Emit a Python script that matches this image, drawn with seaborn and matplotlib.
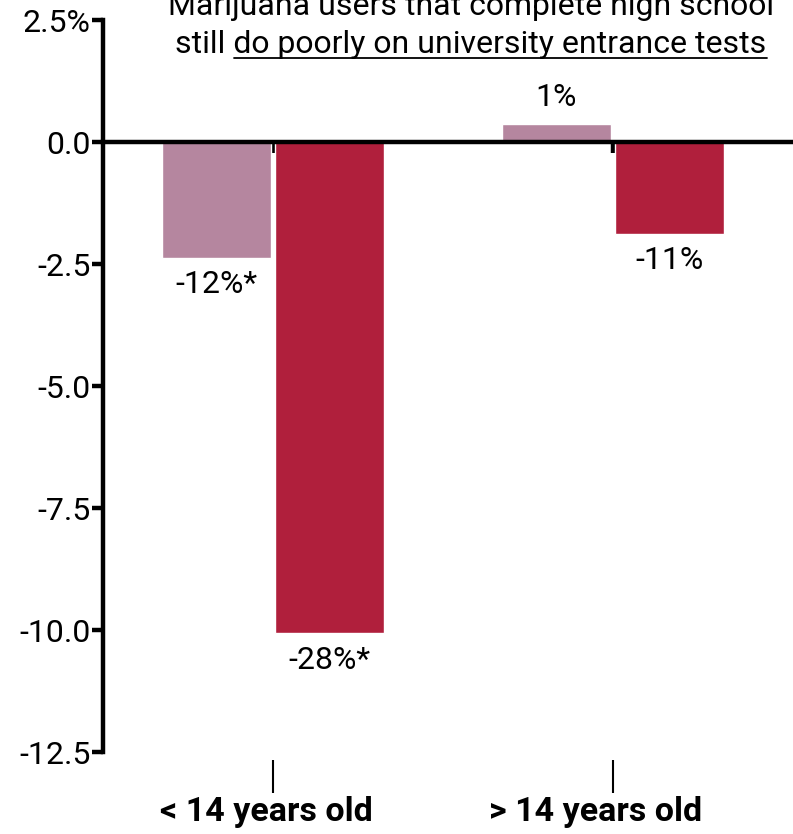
import matplotlib
matplotlib.use("Agg")
import matplotlib.pyplot as plt
import matplotlib.transforms as mtransforms
import pandas as pd
import seaborn as sns
from matplotlib.lines import Line2D

# values
age_groups = ["< 14 years old", "> 14 years old"]
series = ["light", "dark"]
light_values = [-2.37, 0.36]
dark_values = [-10.07, -1.88]
light_labels = ["-12%*", "1%"]
dark_labels = ["-28%*", "-11%"]
ytick_values = [2.5, 0.0, -2.5, -5.0, -7.5, -10.0, -12.5]
ytick_labels = ["2.5%", "0.0", "-2.5", "-5.0", "-7.5", "-10.0", "-12.5"]
title_line1 = "Marijuana users that complete high school"
title_pre = "still "
title_under = "do poorly on university entrance tests"

df = pd.DataFrame({
    "age": age_groups * 2,
    "series": [series[0]] * 2 + [series[1]] * 2,
    "value": light_values + dark_values,
})

sns.set_theme(style="white")
plt.rcParams["font.family"] = ["Roboto", "DejaVu Sans"]

W, H = 793, 834
fig = plt.figure(figsize=(W / 100, H / 100), dpi=100)
ax = fig.add_axes([103 / W, 1 - 752 / H, 1 - 103 / W, 732 / H])

sns.barplot(data=df, x="age", y="value", hue="series", order=age_groups,
            hue_order=series, palette=["#B5869F", "#B01F3C"], width=0.665,
            gap=0.03, legend=False, saturation=1, ax=ax)

for cont, labs in zip(ax.containers, [light_labels, dark_labels]):
    ax.bar_label(cont, labels=labs, padding=9, fontsize=23, color="black")

ax.set_xlim(-0.5, 1.53)
ax.set_ylim(-12.5, 2.5)
ax.set_yticks(ytick_values)
ax.set_yticklabels(ytick_labels)
ax.set_xlabel("")
ax.set_ylabel("")

for s in ["top", "right"]:
    ax.spines[s].set_visible(False)
ax.spines["left"].set_linewidth(3.2)
ax.spines["left"].set_color("black")
ax.spines["bottom"].set_position(("data", 0))
ax.spines["bottom"].set_linewidth(3.2)
ax.spines["bottom"].set_color("black")

ax.tick_params(axis="y", length=8, width=3.2, color="black", labelsize=23,
               labelcolor="black", pad=1, left=True)
ax.tick_params(axis="x", length=8, width=3.2, color="black", labelbottom=False,
               bottom=True)

sec = ax.secondary_xaxis(-8 / 732)
sec.set_xticks([0, 1])
sec.set_xticklabels(age_groups, fontweight="bold", fontsize=24.5)
sec.spines["bottom"].set_visible(False)
sec.tick_params(axis="x", length=24, width=1.5, color="black", pad=2,
                labelcolor="black")
# labels sit a bit left of their ticks in the reference
for lab, dx in zip(sec.get_xticklabels(), [-7, -17]):
    lab.set_transform(lab.get_transform() +
                      mtransforms.ScaledTranslation(dx / 100, 0, fig.dpi_scale_trans))

# title, partly cut by the top edge
cx = 471 / W
fig.text(cx, 1 - 15 / H, title_line1, ha="center", va="baseline",
         fontsize=23, color="black")
t2 = fig.text(cx, 1 - 53 / H, title_pre + title_under, ha="center",
              va="baseline", fontsize=23, color="black")
tu = fig.text(0, 0, title_under, fontsize=23, alpha=0)
fig.canvas.draw()
r = fig.canvas.get_renderer()
full = t2.get_window_extent(r)
wu = tu.get_window_extent(r).width
y_line = (H - 58) / H
fig.add_artist(Line2D([(full.x1 - wu) / W, full.x1 / W], [y_line, y_line],
                      transform=fig.transFigure, color="black", lw=1.3))

fig.savefig("out.png", dpi=100)
